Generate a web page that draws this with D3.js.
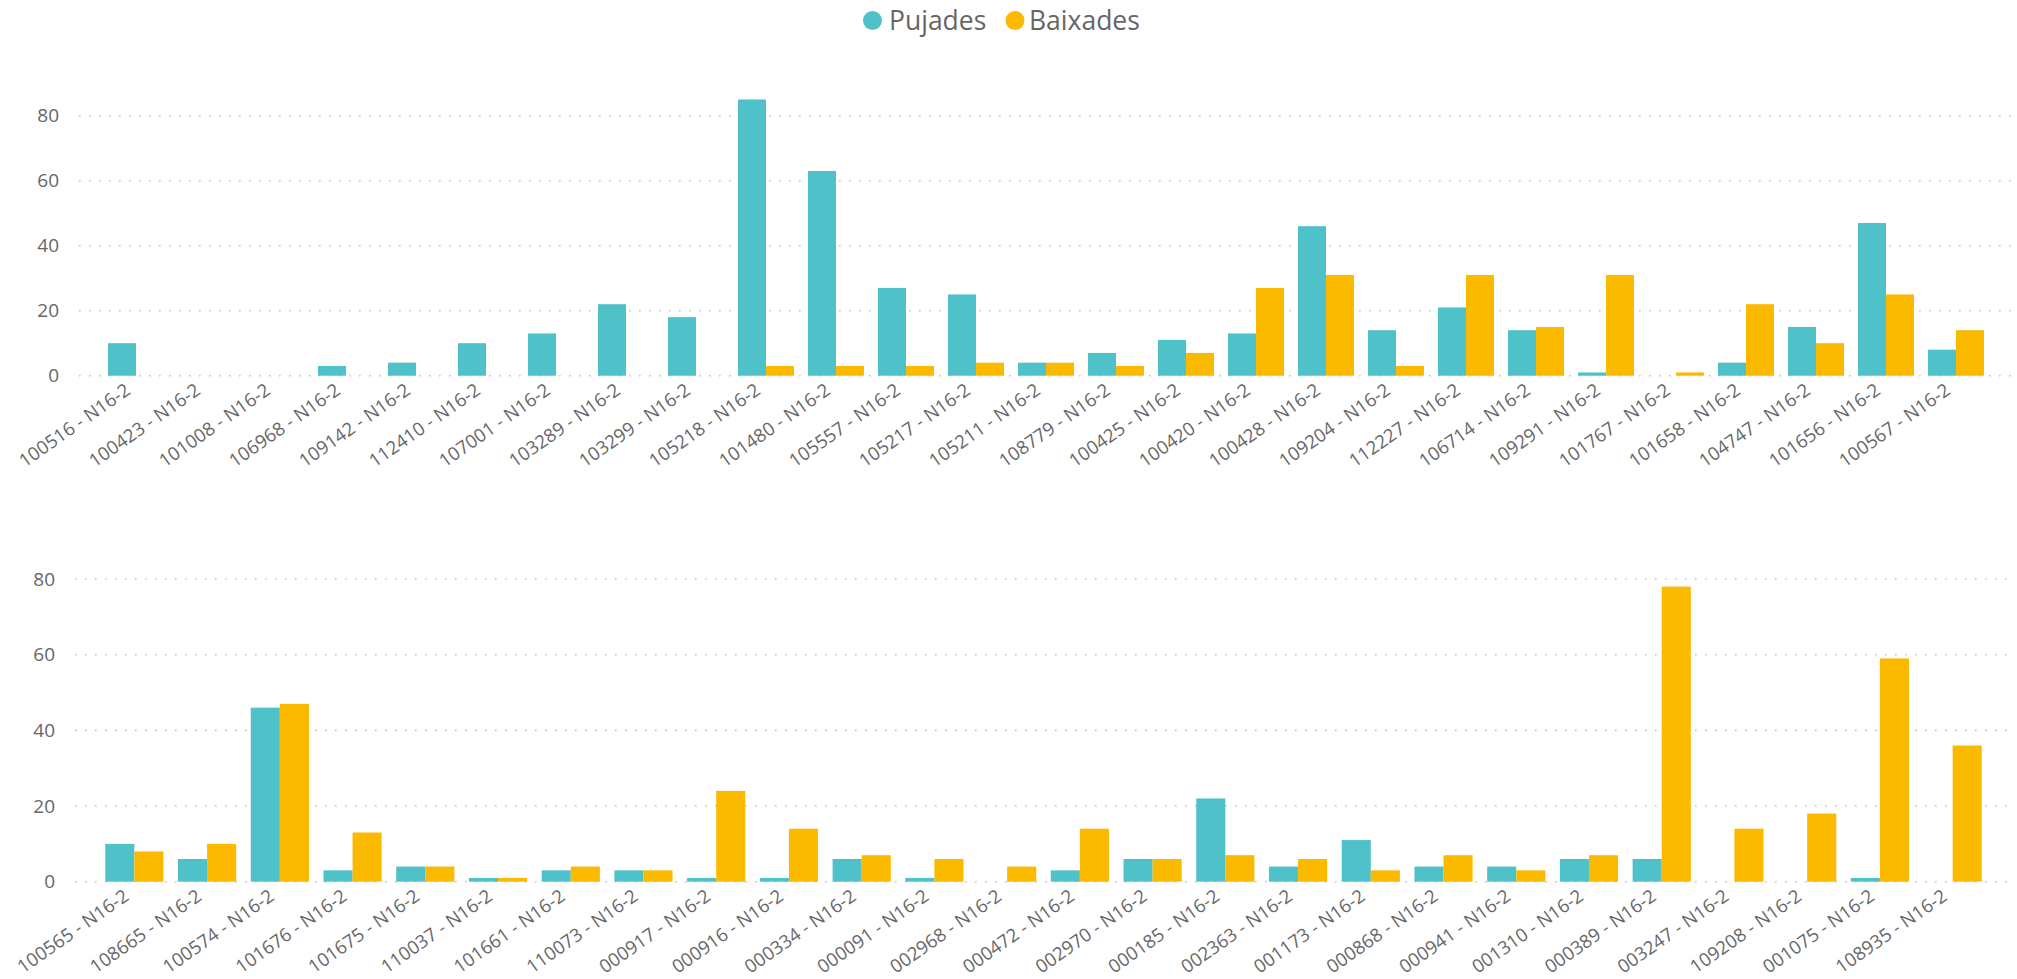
<!DOCTYPE html>
<html>
<head>
<meta charset="utf-8">
<script src="https://d3js.org/d3.v7.min.js"></script>
<style>
    body { margin: 0; background: #fff; }
    svg { display: block; font-family: 'Segoe UI', 'Open Sans', sans-serif; }
</style>
</head>
<body>
<svg id="chart"></svg>
<script>
const series_names = ['Pujades', 'Baixades'];
const series_colors = ['#4fc1c8', '#fbb900'];
const y_ticks = [0, 20, 40, 60, 80];

const top_categories = ['100516 - N16-2', '100423 - N16-2', '101008 - N16-2', '106968 - N16-2', '109142 - N16-2',
    '112410 - N16-2', '107001 - N16-2', '103289 - N16-2', '103299 - N16-2', '105218 - N16-2', '101480 - N16-2',
    '105557 - N16-2', '105217 - N16-2', '105211 - N16-2', '108779 - N16-2', '100425 - N16-2', '100420 - N16-2',
    '100428 - N16-2', '109204 - N16-2', '112227 - N16-2', '106714 - N16-2', '109291 - N16-2', '101767 - N16-2',
    '101658 - N16-2', '104747 - N16-2', '101656 - N16-2', '100567 - N16-2'];
const top_pujades  = [10, 0, 0, 3, 4, 10, 13, 22, 18, 85, 63, 27, 25, 4, 7, 11, 13, 46, 14, 21, 14, 1, 0, 4, 15, 47, 8];
const top_baixades = [0, 0, 0, 0, 0, 0, 0, 0, 0, 3, 3, 3, 4, 4, 3, 7, 27, 31, 3, 31, 15, 31, 1, 22, 10, 25, 14];

const bottom_categories = ['100565 - N16-2', '108665 - N16-2', '100574 - N16-2', '101676 - N16-2', '101675 - N16-2',
    '110037 - N16-2', '101661 - N16-2', '110073 - N16-2', '000917 - N16-2', '000916 - N16-2', '000334 - N16-2',
    '000091 - N16-2', '002968 - N16-2', '000472 - N16-2', '002970 - N16-2', '000185 - N16-2', '002363 - N16-2',
    '001173 - N16-2', '000868 - N16-2', '000941 - N16-2', '001310 - N16-2', '000389 - N16-2', '003247 - N16-2',
    '109208 - N16-2', '001075 - N16-2', '108935 - N16-2'];
const bottom_pujades  = [10, 6, 46, 3, 4, 1, 3, 3, 1, 1, 6, 1, 0, 3, 6, 22, 4, 11, 4, 4, 6, 6, 0, 0, 1, 0];
const bottom_baixades = [8, 10, 47, 13, 4, 1, 4, 3, 24, 14, 7, 6, 4, 14, 6, 7, 6, 3, 7, 3, 7, 78, 14, 18, 59, 36];

class ColumnChart {
    constructor (config, categories, pujades, baixades) {
        this.config = {
            parent: config.parent,
            x_range: config.x_range,
            y_zero: config.y_zero,
            y_80: config.y_80,
            grid_left: config.grid_left,
            grid_right: config.grid_right,
            label_right: config.label_right
        };
        this.data = categories.map( (c, i) => ({ name: c, values: [pujades[i], baixades[i]] }) );
        this.init();
        this.render();
    }

    init() {
        let self = this;

        self.chart = self.config.parent.append('g');

        self.x = d3.scaleBand()
            .domain(self.data.map(d => d.name))
            .range(self.config.x_range)
            .paddingInner(0.2)
            .paddingOuter(0.1);

        self.x_inner = d3.scaleBand()
            .domain(series_names.map((s, i) => i))
            .range([0, self.x.bandwidth()]);

        self.y = d3.scaleLinear()
            .domain([0, 80])
            .range([self.config.y_zero, self.config.y_80]);
    }

    render() {
        let self = this;

        // dotted grid lines
        self.chart.selectAll('.grid')
            .data(y_ticks)
            .enter()
            .append('line')
            .attr('x1', self.config.grid_left)
            .attr('x2', self.config.grid_right)
            .attr('y1', d => self.y(d))
            .attr('y2', d => self.y(d))
            .attr('stroke', '#c4c4c4')
            .attr('stroke-width', 1.6)
            .attr('stroke-dasharray', '1.6,8.4');

        self.chart.selectAll('.ytick')
            .data(y_ticks)
            .enter()
            .append('text')
            .attr('x', self.config.label_right)
            .attr('y', d => self.y(d))
            .attr('dy', '0.35em')
            .attr('text-anchor', 'end')
            .attr('fill', '#666666')
            .style('font-size', '19px')
            .text(d => d);

        const groups = self.chart.selectAll('.group')
            .data(self.data)
            .enter()
            .append('g')
            .attr('transform', d => `translate(${self.x(d.name)},0)`);

        groups.selectAll('rect')
            .data(d => d.values)
            .enter()
            .append('rect')
            .attr('x', (v, i) => self.x_inner(i))
            .attr('width', self.x_inner.bandwidth())
            .attr('y', v => self.y(v))
            .attr('height', v => self.y(0) - self.y(v))
            .attr('fill', (v, i) => series_colors[i]);

        self.chart.selectAll('.xlabel')
            .data(self.data)
            .enter()
            .append('text')
            .attr('transform', d => `translate(${self.x(d.name) + self.x.bandwidth() / 2 - 8},${self.config.y_zero + 12}) rotate(-35)`)
            .attr('dy', '0.35em')
            .attr('text-anchor', 'end')
            .attr('fill', '#666666')
            .style('font-size', '18.5px')
            .text(d => d.name);
    }
}

const svg = d3.select('#chart')
    .attr('width', 2017)
    .attr('height', 979);

// legend
const legend_circle_x = [872.5, 1015];
const legend_text_x = [889, 1029];
const legend = svg.append('g');
series_names.forEach( (name, i) => {
    legend.append('circle')
        .attr('cx', legend_circle_x[i])
        .attr('cy', 20.5)
        .attr('r', 9.5)
        .attr('fill', series_colors[i]);
    legend.append('text')
        .attr('x', legend_text_x[i])
        .attr('y', 29.5)
        .attr('fill', '#666666')
        .style('font-size', '26.5px')
        .text(name);
});

new ColumnChart({
    parent: svg,
    x_range: [101, 1991],
    y_zero: 375.7,
    y_80: 115.7,
    grid_left: 79,
    grid_right: 2013,
    label_right: 59
}, top_categories, top_pujades, top_baixades);

new ColumnChart({
    parent: svg,
    x_range: [98, 1989],
    y_zero: 881.7,
    y_80: 579,
    grid_left: 75,
    grid_right: 2013,
    label_right: 55
}, bottom_categories, bottom_pujades, bottom_baixades);
</script>
</body>
</html>
